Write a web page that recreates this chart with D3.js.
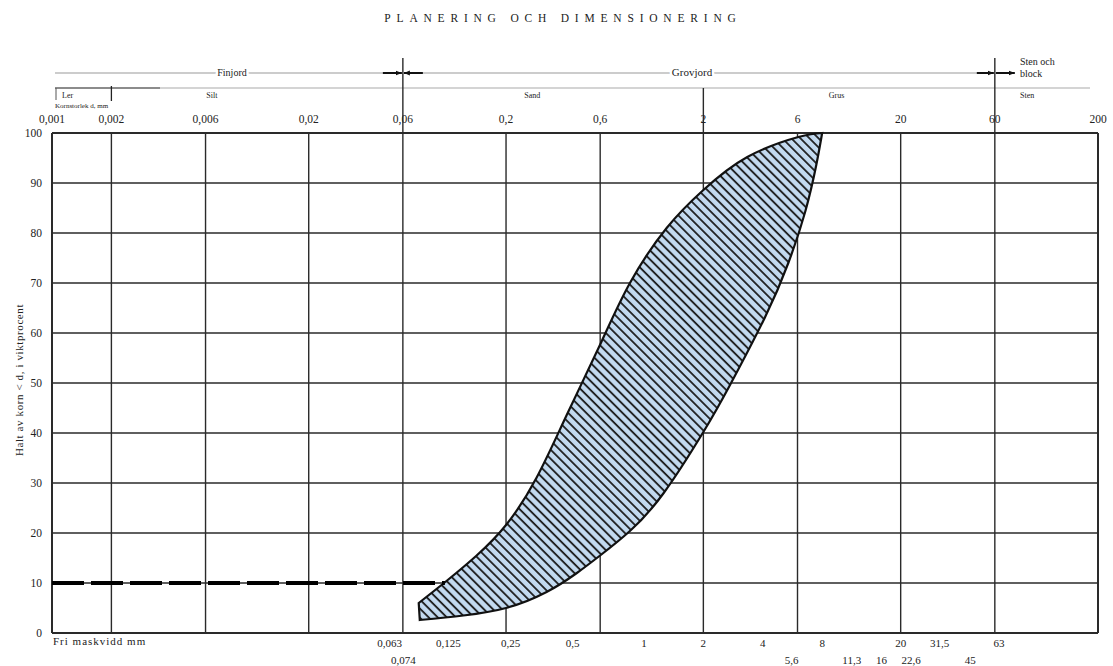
<!DOCTYPE html>
<html>
<head>
<meta charset="utf-8">
<script src="https://d3js.org/d3.v7.min.js"></script>
<style>
  body { margin: 0; background: #fff; }
  text { font-family: 'Liberation Serif', 'DejaVu Serif', serif; fill: #222; }
</style>
</head>
<body>
<svg id="chart" width="1113" height="666"></svg>
<script>
// grain size (mm) on top scale, with printed labels
var topTicks = [0.001, 0.002, 0.006, 0.02, 0.06, 0.2, 0.6, 2, 6, 20, 60, 200];
var topLabels = ['0,001', '0,002', '0,006', '0,02', '0,06', '0,2', '0,6', '2', '6', '20', '60', '200'];

// sieve sizes on the bottom ("Fri maskvidd")
var sieveRow1 = [0.063, 0.125, 0.25, 0.5, 1, 2, 4, 8, 20, 31.5, 63];
var sieveRow1Labels = ['0,063', '0,125', '0,25', '0,5', '1', '2', '4', '8', '20', '31,5', '63'];
var sieveRow2 = [0.074, 5.6, 11.3, 16, 22.6, 45];
var sieveRow2Labels = ['0,074', '5,6', '11,3', '16', '22,6', '45'];

var yTicks = [0, 10, 20, 30, 40, 50, 60, 70, 80, 90, 100];

// grading envelope: fine limit (upper) and coarse limit (lower), [mm, % passing]
var upperLimit = [[0.0722, 6], [0.0998, 10.4], [0.141, 15.4], [0.2, 21.6], [0.285, 31],
                  [0.406, 43.6], [0.595, 57.4], [0.849, 70], [1.303, 81], [2, 88.6],
                  [3.34, 95.2], [6.06, 99.2], [8, 100]];
var lowerLimit = [[0.0731, 2.6], [0.1216, 3.5], [0.2, 5], [0.321, 8.2], [0.457, 12],
                  [0.595, 15.4], [0.849, 20.4], [1.259, 28], [2, 40.2], [2.73, 49.6],
                  [4.09, 63], [5.39, 74], [6.58, 84.4], [7.47, 93.6], [8, 100]];

// d10 reference line
var d10Line = [[0.001, 10], [0.098, 10]];

// soil classes in the header
var classNames = ['Ler', 'Silt', 'Sand', 'Grus', 'Sten'];
var classBounds = [[0.001, 0.002], [0.002, 0.06], [0.06, 2], [2, 60], [60, 200]];

var svg = d3.select('#chart');

var x = d3.scaleLog().domain([0.001, 200]).range([52, 1098]);
var y = d3.scaleLinear().domain([0, 100]).range([633, 133]);

// title
svg.append('text')
  .attr('x', 563).attr('y', 22)
  .attr('text-anchor', 'middle')
  .attr('font-size', 11.5)
  .attr('letter-spacing', 5.8)
  .text('PLANERING OCH DIMENSIONERING');

// defs: arrowheads and hatching
var defs = svg.append('defs');
defs.append('marker')
  .attr('id', 'arrowhead')
  .attr('viewBox', '0 0 10 10')
  .attr('refX', 10).attr('refY', 5)
  .attr('markerWidth', 6).attr('markerHeight', 6)
  .attr('markerUnits', 'userSpaceOnUse')
  .attr('orient', 'auto-start-reverse')
  .append('path')
  .attr('d', 'M 0 1 L 10 5 L 0 9 z')
  .attr('fill', '#111');

var hatch = defs.append('pattern')
  .attr('id', 'hatch')
  .attr('patternUnits', 'userSpaceOnUse')
  .attr('width', 6.4).attr('height', 6.4)
  .attr('patternTransform', 'rotate(-45)');
hatch.append('rect')
  .attr('width', 6.4).attr('height', 6.4)
  .attr('fill', '#c3daf0');
hatch.append('line')
  .attr('x1', 1).attr('y1', 0)
  .attr('x2', 1).attr('y2', 6.4)
  .attr('stroke', '#1a1a1a')
  .attr('stroke-width', 1.8);

// header row 1: Finjord / Grovjord / Sten och block
var hdr = svg.append('g');
hdr.append('line')
  .attr('x1', 55).attr('x2', x(0.06) - 1)
  .attr('y1', 73).attr('y2', 73)
  .attr('stroke', '#999').attr('stroke-width', 1.2);
hdr.append('line')
  .attr('x1', x(0.06) - 20).attr('x2', x(0.06) - 1)
  .attr('y1', 73).attr('y2', 73)
  .attr('stroke', '#111').attr('stroke-width', 2)
  .attr('marker-end', 'url(#arrowhead)');
hdr.append('line')
  .attr('x1', x(0.06) + 1).attr('x2', x(60) - 1)
  .attr('y1', 73).attr('y2', 73)
  .attr('stroke', '#999').attr('stroke-width', 1.2);
hdr.append('line')
  .attr('x1', x(0.06) + 1).attr('x2', x(0.06) + 20)
  .attr('y1', 73).attr('y2', 73)
  .attr('stroke', '#111').attr('stroke-width', 2)
  .attr('marker-start', 'url(#arrowhead)');
hdr.append('line')
  .attr('x1', x(60) - 18).attr('x2', x(60) - 1)
  .attr('y1', 73).attr('y2', 73)
  .attr('stroke', '#111').attr('stroke-width', 2)
  .attr('marker-end', 'url(#arrowhead)');
hdr.append('line')
  .attr('x1', x(60) + 1).attr('x2', x(60) + 20)
  .attr('y1', 73).attr('y2', 73)
  .attr('stroke', '#111').attr('stroke-width', 2)
  .attr('marker-end', 'url(#arrowhead)');

hdr.append('text')
  .attr('x', 232).attr('y', 76)
  .attr('text-anchor', 'middle').attr('font-size', 10)
  .attr('stroke', '#fff').attr('stroke-width', 5).attr('paint-order', 'stroke')
  .text('Finjord');
hdr.append('text')
  .attr('x', 692).attr('y', 76)
  .attr('text-anchor', 'middle').attr('font-size', 11)
  .attr('stroke', '#fff').attr('stroke-width', 5).attr('paint-order', 'stroke')
  .text('Grovjord');
hdr.append('text')
  .attr('x', 1020).attr('y', 65).attr('font-size', 10)
  .text('Sten och');
hdr.append('text')
  .attr('x', 1020).attr('y', 77).attr('font-size', 10)
  .text('block');

// header row 2: soil classes
hdr.append('line')
  .attr('x1', 55).attr('x2', 1090)
  .attr('y1', 88).attr('y2', 88)
  .attr('stroke', '#aaa').attr('stroke-width', 1.2);
hdr.append('line')
  .attr('x1', 55).attr('x2', 160)
  .attr('y1', 88).attr('y2', 88)
  .attr('stroke', '#444').attr('stroke-width', 1.2);
hdr.append('line')
  .attr('x1', x(0.002)).attr('x2', x(0.002))
  .attr('y1', 86).attr('y2', 101)
  .attr('stroke', '#222').attr('stroke-width', 1.3);
hdr.append('line')
  .attr('x1', 56).attr('x2', 56)
  .attr('y1', 88).attr('y2', 100)
  .attr('stroke', '#555').attr('stroke-width', 1);

hdr.selectAll('.cls')
  .data(classNames)
  .enter().append('text')
  .attr('class', 'cls')
  .attr('x', function(d, i) {
    if (i === 0) return 62;
    if (i === 4) return 1020;
    return Math.sqrt(x(classBounds[i][0]) * x(classBounds[i][1]));
  })
  .attr('y', 98)
  .attr('text-anchor', function(d, i) { return (i === 0 || i === 4) ? 'start' : 'middle'; })
  .attr('font-size', 8)
  .text(function(d) { return d; });

hdr.append('text')
  .attr('x', 55).attr('y', 108)
  .attr('font-size', 7)
  .text('Kornstorlek d, mm');

// grid
var grid = svg.append('g');
grid.selectAll('.hline')
  .data(yTicks)
  .enter().append('line')
  .attr('x1', x(0.001)).attr('x2', x(200))
  .attr('y1', function(d) { return y(d); })
  .attr('y2', function(d) { return y(d); })
  .attr('stroke', '#2a2a2a')
  .attr('stroke-width', function(d) { return (d === 0 || d === 100) ? 2 : 1.3; });

grid.selectAll('.vline')
  .data(topTicks)
  .enter().append('line')
  .attr('x1', function(d) { return x(d); })
  .attr('x2', function(d) { return x(d); })
  .attr('y1', function(d) {
    if (d === 0.06 || d === 60) return 58;
    if (d === 2) return 88;
    return y(100);
  })
  .attr('y2', y(0))
  .attr('stroke', '#2a2a2a')
  .attr('stroke-width', function(d) { return (d === 0.001 || d === 200) ? 2 : 1.4; });

// top tick labels
svg.selectAll('.tlab')
  .data(topTicks)
  .enter().append('text')
  .attr('x', function(d) { return x(d); })
  .attr('y', 123)
  .attr('text-anchor', 'middle')
  .attr('font-size', 11.5)
  .text(function(d, i) { return topLabels[i]; });

// y tick labels
svg.selectAll('.ylab')
  .data(yTicks)
  .enter().append('text')
  .attr('x', 42)
  .attr('y', function(d) { return y(d) + 4; })
  .attr('text-anchor', 'end')
  .attr('font-size', 11.5)
  .text(function(d) { return d; });

svg.append('text')
  .attr('transform', 'translate(23,380) rotate(-90)')
  .attr('text-anchor', 'middle')
  .attr('font-size', 11)
  .attr('letter-spacing', 0.6)
  .attr('font-family', 'DejaVu Sans')
  .text('Halt av korn < d, i viktprocent');

// bottom sieve labels (fine sizes set just left of their line, as printed)
svg.selectAll('.b1')
  .data(sieveRow1)
  .enter().append('text')
  .attr('x', function(d) { return d < 1 ? x(d) - 5 : x(d); })
  .attr('y', 647)
  .attr('text-anchor', function(d) { return d < 1 ? 'end' : 'middle'; })
  .attr('font-size', 11)
  .text(function(d, i) { return sieveRow1Labels[i]; });

svg.selectAll('.b2')
  .data(sieveRow2)
  .enter().append('text')
  .attr('x', function(d) { return d < 1 ? x(d) - 5 : x(d); })
  .attr('y', 664)
  .attr('text-anchor', function(d) { return d < 1 ? 'end' : 'middle'; })
  .attr('font-size', 11)
  .text(function(d, i) { return sieveRow2Labels[i]; });

svg.append('text')
  .attr('x', 53).attr('y', 645)
  .attr('font-size', 11)
  .attr('letter-spacing', 1)
  .attr('font-family', 'DejaVu Sans')
  .text('Fri maskvidd mm');

// envelope: two smooth limit curves joined at the tips
var line = d3.line()
  .x(function(d) { return x(d[0]); })
  .y(function(d) { return y(d[1]); })
  .curve(d3.curveNatural);

var upperPath = line(upperLimit);
var lowerPath = line(lowerLimit.slice().reverse());
svg.append('path')
  .attr('d', upperPath + 'L' + lowerPath.substring(1) + 'Z')
  .attr('fill', 'url(#hatch)')
  .attr('stroke', '#111')
  .attr('stroke-width', 2.2)
  .attr('stroke-linejoin', 'miter');

// d10 dashed line
svg.append('path')
  .attr('d', d3.line().x(function(d) { return x(d[0]); }).y(function(d) { return y(d[1]); })(d10Line))
  .attr('stroke', '#000')
  .attr('stroke-width', 4)
  .attr('stroke-dasharray', '32,7')
  .attr('fill', 'none');
</script>
</body>
</html>
